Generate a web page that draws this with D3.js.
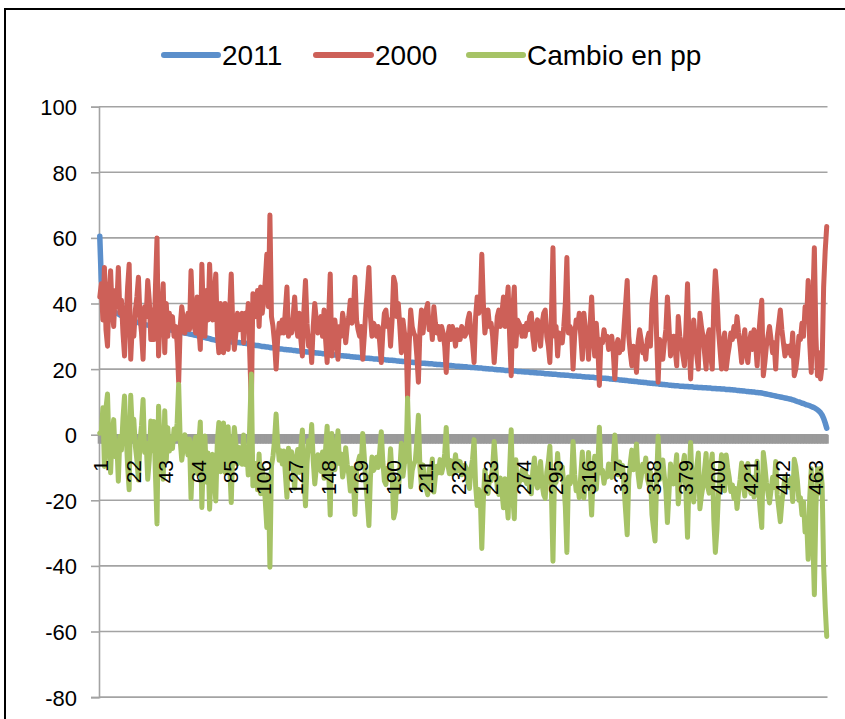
<!DOCTYPE html>
<html><head><meta charset="utf-8">
<script src="https://cdn.jsdelivr.net/npm/d3@7"></script>
<style>html,body{margin:0;padding:0;background:#fff;}svg{display:block;font-family:"Liberation Sans",Arial,sans-serif;}</style>
</head><body>
<svg id="chart" width="845" height="719"></svg>
<script>
const seriesNames = ["2011", "2000", "Cambio en pp"];
const seriesColors = ["#5B8FCB", "#CD6058", "#A6C366"];
const yTicks = [-80, -60, -40, -20, 0, 20, 40, 60, 80, 100];
const xTickLabels = [1, 22, 43, 64, 85, 106, 127, 148, 169, 190, 211, 232, 253, 274, 295, 316, 337, 358, 379, 400, 421, 442, 463];

const v2011 = [
60.5,46.8,43.2,41.3,40.1,39.4,38.9,38.4,38.0,37.6,
37.3,37.0,36.8,36.5,36.3,36.0,35.8,35.6,35.4,35.2,
35.0,34.8,34.7,34.5,34.3,34.2,34.0,33.9,33.7,33.6,
33.5,33.4,33.3,33.2,33.1,33.0,32.9,32.8,32.7,32.6,
32.5,32.4,32.3,32.2,32.1,32.0,31.9,31.8,31.7,31.6,
31.5,31.4,31.3,31.2,31.1,31.0,30.9,30.8,30.7,30.6,
30.5,30.4,30.3,30.2,30.0,29.9,29.8,29.7,29.6,29.5,
29.4,29.3,29.1,29.0,28.9,28.8,28.8,28.7,28.7,28.6,
28.6,28.5,28.5,28.4,28.4,28.3,28.3,28.2,28.2,28.1,
28.1,28.0,28.0,27.9,27.9,27.8,27.7,27.6,27.5,27.4,
27.3,27.2,27.2,27.1,27.0,26.9,26.9,26.8,26.7,26.7,
26.6,26.5,26.5,26.4,26.3,26.3,26.2,26.1,26.1,26.0,
26.0,25.9,25.9,25.8,25.8,25.7,25.7,25.6,25.5,25.5,
25.4,25.4,25.3,25.3,25.2,25.2,25.1,25.1,25.0,25.0,
24.9,24.9,24.8,24.8,24.7,24.7,24.6,24.6,24.5,24.5,
24.4,24.4,24.3,24.3,24.2,24.2,24.1,24.1,24.0,24.0,
23.9,23.9,23.8,23.8,23.7,23.7,23.6,23.6,23.5,23.5,
23.4,23.4,23.3,23.3,23.3,23.2,23.2,23.1,23.1,23.1,
23.0,23.0,22.9,22.9,22.9,22.8,22.8,22.7,22.7,22.7,
22.6,22.6,22.5,22.5,22.4,22.4,22.3,22.3,22.3,22.2,
22.2,22.1,22.1,22.0,22.0,22.0,21.9,21.9,21.8,21.8,
21.8,21.7,21.7,21.6,21.6,21.6,21.5,21.5,21.4,21.4,
21.4,21.3,21.3,21.2,21.2,21.1,21.1,21.1,21.0,21.0,
20.9,20.9,20.9,20.8,20.8,20.7,20.7,20.7,20.6,20.6,
20.5,20.5,20.5,20.4,20.4,20.3,20.3,20.3,20.2,20.2,
20.1,20.1,20.0,20.0,20.0,19.9,19.9,19.8,19.8,19.8,
19.7,19.7,19.6,19.6,19.6,19.5,19.5,19.4,19.4,19.4,
19.3,19.3,19.3,19.2,19.2,19.1,19.1,19.1,19.0,19.0,
19.0,18.9,18.9,18.8,18.8,18.8,18.7,18.7,18.6,18.6,
18.6,18.5,18.5,18.4,18.4,18.4,18.3,18.3,18.2,18.2,
18.2,18.1,18.1,18.1,18.0,18.0,17.9,17.9,17.9,17.8,
17.8,17.8,17.7,17.7,17.6,17.6,17.6,17.5,17.5,17.5,
17.4,17.4,17.3,17.3,17.3,17.2,17.2,17.2,17.1,17.1,
17.0,17.0,16.9,16.9,16.8,16.8,16.7,16.7,16.6,16.6,
16.5,16.5,16.4,16.4,16.3,16.3,16.2,16.2,16.1,16.1,
16.0,16.0,15.9,15.9,15.8,15.8,15.7,15.7,15.6,15.6,
15.5,15.5,15.4,15.4,15.3,15.3,15.2,15.2,15.1,15.1,
15.0,15.0,14.9,14.9,14.9,14.8,14.8,14.8,14.7,14.7,
14.7,14.6,14.6,14.6,14.5,14.5,14.5,14.4,14.4,14.4,
14.3,14.3,14.3,14.2,14.2,14.2,14.1,14.1,14.1,14.0,
14.0,14.0,13.9,13.9,13.9,13.8,13.8,13.8,13.7,13.7,
13.6,13.6,13.5,13.5,13.4,13.4,13.3,13.3,13.2,13.2,
13.1,13.1,13.0,13.0,12.9,12.9,12.8,12.8,12.7,12.6,
12.5,12.4,12.3,12.2,12.1,12.0,11.9,11.8,11.7,11.6,
11.5,11.4,11.3,11.2,11.1,11.0,10.9,10.8,10.6,10.5,
10.3,10.1,10.0,9.8,9.6,9.5,9.3,9.1,9.0,8.8,
8.6,8.4,8.2,7.9,7.6,7.2,6.7,6.0,5.0,3.6,2.0
];

const v2000 = [
42,46,35,51,32,27,43,50,38,33,
44,39,51,37,41,31,24,35,45,52,
23,33,30,38,42,48,36,31,23,39,
36,47,41,29,38,29,45,60,24,35,
38,46,25,40,30,37,33,36,30,33,
28,16,33,39,35,31,34,37,32,50,
38,33,31,42,33,26,52,36,30,44,
35,52,40,35,42,49,31,25,40,33,
25,40,36,26,38,49,33,26,31,37,
32,35,37,28,37,32,40,24,9,43,
42,36,44,33,45,37,41,47,55,39,
67,36,33,28,20,29,34,31,35,31,
38,45,30,35,31,36,42,33,30,37,
29,24,38,47,34,27,30,22,33,40,
35,31,33,36,30,38,29,22,36,49,
24,30,35,30,23,33,30,37,34,28,
33,36,41,34,38,48,35,32,30,33,
23,30,38,44,51,36,30,34,33,30,
33,28,22,31,37,38,33,35,27,35,
48,46,36,40,33,25,35,31,30,11,
27,38,33,31,30,24,16,32,38,31,
36,38,40,32,35,29,39,34,31,33,
29,33,31,27,19,30,33,29,33,31,
27,32,29,29,33,32,30,31,35,37,
31,28,22,36,42,37,39,55,40,31,
35,38,33,34,30,22,29,36,38,33,
37,42,33,39,45,30,18,38,45,27,
35,34,33,30,33,30,34,32,36,37,
30,26,33,35,31,27,34,37,38,30,
27,22,36,57,30,33,24,31,30,28,
33,40,54,31,33,32,20,30,35,33,
37,30,23,37,32,30,23,33,42,30,
24,34,27,15,29,28,32,29,30,26,
28,30,25,17,27,29,25,27,26,33,
40,47,30,25,21,27,25,19,28,32,
29,25,27,23,29,31,27,40,44,48,
30,16,29,27,23,28,32,42,33,24,
28,30,26,21,36,30,28,24,21,33,
46,28,17,30,35,29,24,20,37,33,
30,25,20,30,32,24,20,40,50,43,
32,26,20,28,31,20,24,27,31,29,
33,30,36,31,27,22,28,32,25,22,
28,31,26,32,28,21,30,36,41,18,
22,27,30,33,29,25,28,20,30,34,
38,32,28,24,27,25,27,24,31,18,
20,24,30,29,34,30,39,35,47,28,
19,40,57,30,18,25,17,21,45,56,63.5
];

const vCambio = [
0.5,0.8,8.2,-9.7,8.1,12.4,-4.1,-11.6,0.0,4.6,
-6.7,-2.0,-14.2,-0.5,-4.7,5.0,11.8,0.6,-9.6,-16.8,
12.0,1.8,4.7,-3.5,-7.7,-13.8,-2.0,2.9,10.7,-5.4,
-2.5,-13.6,-7.7,4.2,-4.9,4.0,-12.1,-27.2,8.7,-2.4,
-5.5,-13.6,7.3,-7.8,2.1,-5.0,-1.1,-4.2,1.7,-1.4,
3.5,15.4,-1.7,-7.8,-3.9,0.0,-3.1,-6.2,-1.3,-19.4,
-7.5,-2.6,-0.7,-11.8,-3.0,3.9,-22.2,-6.3,-0.4,-14.5,
-5.6,-22.7,-10.9,-6.0,-13.1,-20.2,-2.2,3.7,-11.3,-4.4,
3.6,-11.5,-7.5,2.4,-9.6,-20.7,-4.7,2.2,-2.8,-8.9,
-3.9,-7.0,-9.0,-0.1,-9.1,-4.2,-12.3,3.6,18.5,-15.6,
-14.7,-8.8,-16.8,-5.9,-18.0,-10.1,-14.1,-20.2,-28.3,-12.3,
-40.4,-9.5,-6.5,-1.6,6.3,-2.7,-7.8,-4.9,-8.9,-5.0,
-12.0,-19.1,-4.1,-9.2,-5.2,-10.3,-16.3,-7.4,-4.5,-11.5,
-3.6,1.4,-12.7,-21.7,-8.8,-1.8,-4.9,3.1,-8.0,-15.0,
-10.1,-6.1,-8.2,-11.2,-5.3,-13.3,-4.4,2.6,-11.5,-24.5,
0.4,-5.6,-10.7,-5.7,1.2,-8.8,-5.9,-12.9,-10.0,-4.0,
-9.1,-12.1,-17.2,-10.2,-14.3,-24.3,-11.4,-8.4,-6.5,-9.5,
0.4,-6.6,-14.7,-20.7,-27.7,-12.8,-6.8,-10.9,-9.9,-6.9,
-10.0,-5.0,0.9,-8.1,-14.1,-15.2,-10.2,-12.3,-4.3,-12.3,
-25.4,-23.4,-13.5,-17.5,-10.6,-2.6,-12.7,-8.7,-7.7,11.2,
-4.8,-15.9,-10.9,-9.0,-8.0,-2.0,5.9,-10.1,-16.2,-9.2,
-14.2,-16.3,-18.3,-10.4,-13.4,-7.4,-17.5,-12.5,-9.6,-11.6,
-7.6,-11.7,-9.7,-5.8,2.2,-8.9,-11.9,-7.9,-12.0,-10.0,
-6.1,-11.1,-8.1,-8.2,-12.2,-11.3,-9.3,-10.3,-14.4,-16.4,
-10.5,-7.5,-1.5,-15.6,-21.6,-16.7,-18.7,-34.7,-19.8,-10.8,
-14.9,-17.9,-13.0,-14.0,-10.0,-2.1,-9.1,-16.2,-18.2,-13.2,
-17.3,-22.3,-13.4,-19.4,-25.4,-10.5,1.5,-18.6,-25.6,-7.6,
-15.7,-14.7,-13.7,-10.8,-13.8,-10.9,-14.9,-12.9,-17.0,-18.0,
-11.0,-7.1,-14.1,-16.2,-12.2,-8.2,-15.3,-18.3,-19.4,-11.4,
-8.4,-3.5,-17.5,-38.6,-11.6,-14.6,-5.7,-12.7,-11.8,-9.8,
-14.8,-21.9,-35.9,-12.9,-15.0,-14.0,-2.1,-12.1,-17.1,-15.2,
-19.2,-12.2,-5.3,-19.3,-14.4,-12.4,-5.4,-15.5,-24.5,-12.5,
-6.6,-16.6,-9.7,2.3,-11.7,-10.8,-14.8,-11.8,-12.9,-8.9,
-11.0,-13.0,-8.1,-0.1,-10.2,-12.2,-8.3,-10.3,-9.4,-16.4,
-23.5,-30.5,-13.6,-8.6,-4.7,-10.7,-8.8,-2.8,-11.9,-15.9,
-13.0,-9.0,-11.1,-7.1,-13.2,-15.2,-11.3,-24.3,-28.4,-32.4,
-14.5,-0.5,-13.6,-11.6,-7.7,-12.7,-16.8,-26.8,-17.9,-8.9,
-13.0,-15.0,-11.1,-6.1,-21.1,-15.2,-13.2,-9.2,-6.3,-18.3,
-31.3,-13.4,-2.4,-15.4,-20.5,-14.5,-9.5,-5.6,-22.6,-18.6,
-15.7,-10.7,-5.7,-15.8,-17.8,-9.8,-5.9,-25.9,-35.9,-29.0,
-18.0,-12.0,-6.1,-14.1,-17.1,-6.2,-10.2,-13.2,-17.3,-15.3,
-19.4,-16.4,-22.5,-17.5,-13.6,-8.6,-14.7,-18.7,-11.8,-8.8,
-14.9,-17.9,-13.0,-19.0,-15.1,-8.1,-17.2,-23.2,-28.3,-5.4,
-9.5,-14.6,-17.7,-20.8,-16.9,-13.0,-16.1,-8.2,-18.3,-22.4,
-26.5,-20.6,-16.7,-12.8,-15.9,-14.0,-16.1,-13.2,-20.4,-7.5,
-9.7,-13.9,-20.0,-19.2,-24.4,-20.5,-29.7,-25.9,-38.0,-19.2,
-10.4,-31.6,-48.8,-22.1,-10.4,-17.8,-10.3,-15.0,-40.0,-52.4,-61.5
];

const categories = d3.range(1, v2011.length + 1);
const seriesValues = [v2011, v2000, vCambio];

const svg = d3.select("#chart");
svg.append("rect").attr("x", 0).attr("y", 0).attr("width", 845).attr("height", 719).attr("fill", "#fff");
svg.append("rect").attr("x", 5).attr("y", 9).attr("width", 900).attr("height", 800)
  .attr("fill", "none").attr("stroke", "#000").attr("stroke-width", 2);

const plotLeft = 99, plotRight = 827.5, plotTop = 106.7, plotBottom = 697.1;
const band = d3.scaleBand().domain(categories).range([plotLeft, plotRight]).paddingInner(0).paddingOuter(0);
const xPos = d => band(d) + band.bandwidth() / 2;
const y = d3.scaleLinear().domain([-80, 100]).range([plotBottom, plotTop]);
const gridCol = "#A3A3A3";

// gridlines
svg.append("g").selectAll("line").data(yTicks).join("line")
  .attr("x1", plotLeft).attr("x2", plotRight)
  .attr("y1", d => y(d)).attr("y2", d => y(d))
  .attr("stroke", gridCol).attr("stroke-width", 1.6);

// y axis
const yAxis = d3.axisLeft(y).tickValues(yTicks).tickSize(8).tickPadding(14).tickFormat(d => String(d));
const gy = svg.append("g").attr("transform", `translate(${plotLeft},0)`).call(yAxis);
gy.select(".domain").attr("stroke", gridCol).attr("stroke-width", 1.6);
gy.selectAll(".tick line").attr("stroke", gridCol).attr("stroke-width", 1.6);
gy.selectAll(".tick text").attr("font-size", 22).attr("fill", "#000")
  .attr("font-family", "'Liberation Sans', Arial, sans-serif").attr("dy", "0.36em");

// x axis at zero with tick marks between every category
const zeroY = y(0);
const boundaries = categories.map(c => band(c)).concat([plotRight]);
svg.append("g").selectAll("line").data(boundaries).join("line")
  .attr("x1", d => d).attr("x2", d => d)
  .attr("y1", zeroY).attr("y2", zeroY + 9)
  .attr("stroke", "#9A9A9A").attr("stroke-width", 2.6);
svg.append("line").attr("x1", plotLeft).attr("x2", plotRight).attr("y1", zeroY).attr("y2", zeroY)
  .attr("stroke", "#9A9A9A").attr("stroke-width", 1.6);

// series
const lineGen = d3.line().x((d, i) => xPos(categories[i])).y(d => y(d));
seriesValues.forEach((vals, k) => {
  svg.append("path").datum(vals)
    .attr("d", lineGen)
    .attr("fill", "none")
    .attr("stroke", seriesColors[k])
    .attr("stroke-width", k === 0 ? 5.5 : 5)
    .attr("stroke-linejoin", "round")
    .attr("stroke-linecap", "round");
});

// x tick labels (rotated)
svg.append("g").selectAll("text").data(xTickLabels).join("text")
  .attr("transform", d => `translate(${xPos(d) + 1},460) rotate(-90)`)
  .attr("text-anchor", "end")
  .attr("dy", "0.36em")
  .attr("font-size", 21)
  .attr("fill", "#000")
  .text(d => d);

// legend
const legendItems = [
  {x1: 164, x2: 218},
  {x1: 316, x2: 371},
  {x1: 469, x2: 523}
];
const lg = svg.append("g");
legendItems.forEach((it, k) => {
  lg.append("line").attr("x1", it.x1).attr("x2", it.x2).attr("y1", 55).attr("y2", 55)
    .attr("stroke", seriesColors[k]).attr("stroke-width", 6).attr("stroke-linecap", "round");
  lg.append("text").attr("x", it.x2 + 4).attr("y", 65).attr("font-size", 28).attr("fill", "#000")
    .text(seriesNames[k]);
});
</script>
</body></html>
